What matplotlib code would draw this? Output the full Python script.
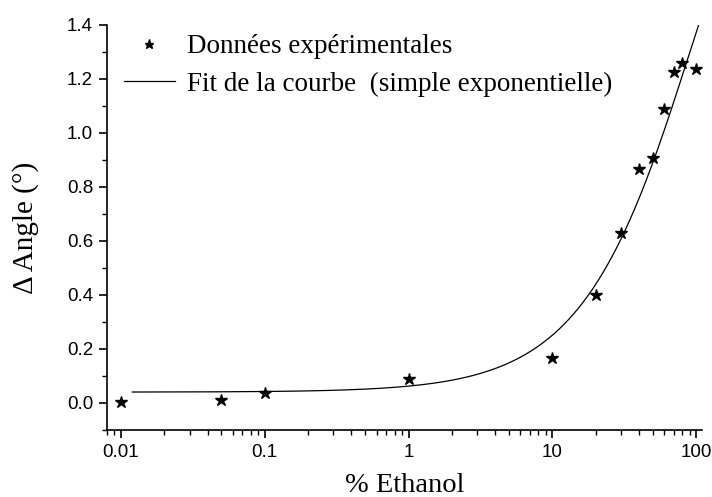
import numpy as np
import matplotlib
matplotlib.use("Agg")
from matplotlib import pyplot as plt
from matplotlib.ticker import LogLocator, FixedLocator

# experimental points
ethanol = [0.01, 0.05, 0.1, 1, 10, 20, 30, 40, 50, 60, 70, 80, 100]
delta_angle = [0.004, 0.011, 0.037, 0.089, 0.166, 0.40, 0.63, 0.865, 0.907, 1.09, 1.225, 1.26, 1.236]

# simple exponential fit parameters: y = y0 + A*(1 - exp(-x/t))
fit_y0 = 0.04
fit_A = 1.96
fit_t = 88.0
fit_range = (0.012, 110)

x_ticks = [0.01, 0.1, 1, 10, 100]
x_ticklabels = ['0.01', '0.1', '1', '10', '100']
y_ticks = [0.0, 0.2, 0.4, 0.6, 0.8, 1.0, 1.2, 1.4]

serif = ['Liberation Serif', 'DejaVu Serif']
sans = ['Liberation Sans', 'DejaVu Sans']

fig = plt.figure(figsize=(7.12, 4.97), dpi=100)
ax = fig.add_axes([0.1503, 0.135, 0.8357, 0.815])

xf = np.logspace(np.log10(fit_range[0]), np.log10(fit_range[1]), 400)
yf = fit_y0 + fit_A * (1 - np.exp(-xf / fit_t))

ax.plot(ethanol, delta_angle, linestyle='none', marker='*', color='black',
        markersize=9, label='Données expérimentales')
ax.plot(xf, yf, color='black', linewidth=0.9,
        label='Fit de la courbe  (simple exponentielle)')

ax.set_xscale('log')
ax.set_xlim(0.008, 110)
ax.set_ylim(-0.1, 1.4)

ax.set_xticks(x_ticks)
ax.set_xticklabels(x_ticklabels)
ax.xaxis.set_minor_locator(LogLocator(base=10, subs=np.arange(2, 10)))
ax.set_yticks(y_ticks)
ax.set_yticklabels([f'{v:.1f}' for v in y_ticks])
ax.yaxis.set_minor_locator(FixedLocator(np.arange(-0.1, 1.41, 0.1)))

for s in ['top', 'right']:
    ax.spines[s].set_visible(False)
for s in ['left', 'bottom']:
    ax.spines[s].set_linewidth(1.2)

ax.tick_params(which='major', direction='out', length=6, width=1.2,
               labelsize=13.5, pad=4)
ax.tick_params(which='minor', direction='out', length=3.5, width=1.0)
for lab in ax.get_xticklabels() + ax.get_yticklabels():
    lab.set_family(sans)

ax.set_xlabel('% Ethanol', family=serif, fontsize=20.5, labelpad=9)
ax.set_ylabel('Δ Angle (°)', family=serif, fontsize=21, labelpad=20)

leg = ax.legend(loc='upper left', bbox_to_anchor=(-0.013, 1.037), frameon=False,
                prop={'family': serif, 'size': 19.5}, handlelength=1.9,
                handletextpad=0.45, labelspacing=0.45, markerscale=0.75)

fig.savefig('out.png', dpi=100)
